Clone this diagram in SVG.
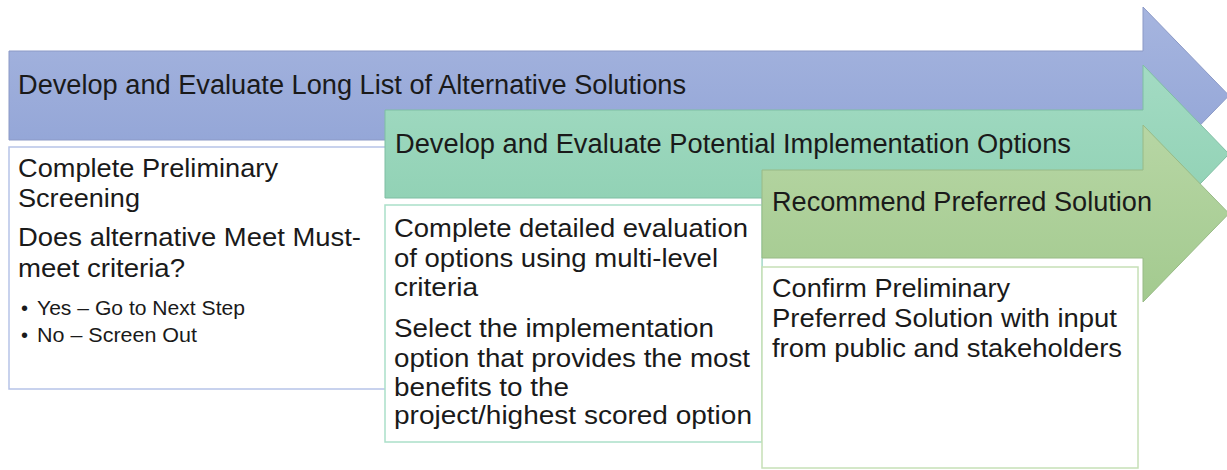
<svg xmlns="http://www.w3.org/2000/svg" width="1227" height="470" viewBox="0 0 1227 470">
<defs>
<linearGradient id="gBlue" x1="0" y1="0" x2="0" y2="1"><stop offset="0" stop-color="#a6b5df"/><stop offset="1" stop-color="#8fa2d5"/></linearGradient>
<linearGradient id="gGreen" x1="0" y1="0" x2="0" y2="1"><stop offset="0" stop-color="#a3dbc3"/><stop offset="1" stop-color="#8ccfb1"/></linearGradient>
<linearGradient id="gOlive" x1="0" y1="0" x2="0" y2="1"><stop offset="0" stop-color="#b7d6a4"/><stop offset="1" stop-color="#a3ca8f"/></linearGradient>
</defs>
<style>
text{font-family:"Liberation Sans",Arial,sans-serif;fill:#1a1a1a}
.title{font-size:27px}
.body{font-size:26px}
.small{font-size:20px}
.box{fill:#ffffff;stroke-width:1.5}
</style>
<rect width="1227" height="470" fill="#ffffff"/>

<g id="arrow1">
<path d="M9 51 H1143 V7 L1229 95.5 L1143 184 V140 H9 Z" fill="url(#gBlue)" stroke="#8b99c6" stroke-width="1"/>
<text class="title" x="18" y="94" textLength="668" lengthAdjust="spacingAndGlyphs">Develop and Evaluate Long List of Alternative Solutions</text>
</g>

<g id="box1">
<rect class="box" x="9" y="147" width="753" height="242" stroke="#b6c3e8"/>
<text class="body" x="18" y="177" textLength="260" lengthAdjust="spacingAndGlyphs">Complete Preliminary</text>
<text class="body" x="18" y="207" textLength="122" lengthAdjust="spacingAndGlyphs">Screening</text>
<text class="body" x="18" y="246" textLength="343" lengthAdjust="spacingAndGlyphs">Does alternative Meet Must-</text>
<text class="body" x="18" y="277" textLength="167" lengthAdjust="spacingAndGlyphs">meet criteria?</text>
<text class="small" x="21" y="315">•</text>
<text class="small" x="37" y="315" textLength="208" lengthAdjust="spacingAndGlyphs">Yes – Go to Next Step</text>
<text class="small" x="21" y="342">•</text>
<text class="small" x="37" y="342" textLength="160" lengthAdjust="spacingAndGlyphs">No – Screen Out</text>
</g>

<g id="arrow2">
<path d="M385 110 H1143 V65 L1229 154 L1143 243 V198 H385 Z" fill="url(#gGreen)" stroke="#7fbea3" stroke-width="1"/>
<text class="title" x="395" y="153" textLength="676" lengthAdjust="spacingAndGlyphs">Develop and Evaluate Potential Implementation Options</text>
</g>

<g id="box2">
<rect class="box" x="385" y="205" width="377" height="237" stroke="#abdfc9"/>
<text class="body" x="394" y="237" textLength="354" lengthAdjust="spacingAndGlyphs">Complete detailed evaluation</text>
<text class="body" x="394" y="267" textLength="324" lengthAdjust="spacingAndGlyphs">of options using multi-level</text>
<text class="body" x="394" y="296" textLength="84" lengthAdjust="spacingAndGlyphs">criteria</text>
<text class="body" x="394" y="337" textLength="320" lengthAdjust="spacingAndGlyphs">Select the implementation</text>
<text class="body" x="394" y="367" textLength="356" lengthAdjust="spacingAndGlyphs">option that provides the most</text>
<text class="body" x="394" y="396" textLength="175" lengthAdjust="spacingAndGlyphs">benefits to the</text>
<text class="body" x="394" y="424" textLength="358" lengthAdjust="spacingAndGlyphs">project/highest scored option</text>
</g>

<g id="arrow3">
<path d="M762 170 H1143 V125 L1229 213.5 L1143 302 V258 H762 Z" fill="url(#gOlive)" stroke="#98ba86" stroke-width="1"/>
<text class="title" x="772" y="211" textLength="380" lengthAdjust="spacingAndGlyphs">Recommend Preferred Solution</text>
</g>

<g id="box3">
<rect class="box" x="762" y="267" width="376" height="201" stroke="#c6e0b7"/>
<text class="body" x="772" y="297" textLength="238" lengthAdjust="spacingAndGlyphs">Confirm Preliminary</text>
<text class="body" x="772" y="327" textLength="345" lengthAdjust="spacingAndGlyphs">Preferred Solution with input</text>
<text class="body" x="772" y="357" textLength="350" lengthAdjust="spacingAndGlyphs">from public and stakeholders</text>
</g>

<g id="connectors"></g>
</svg>
